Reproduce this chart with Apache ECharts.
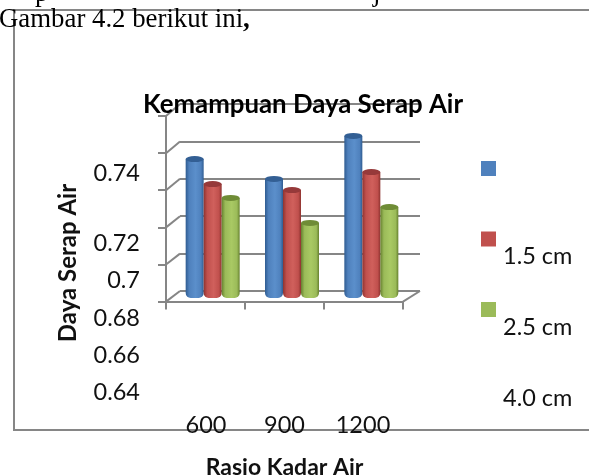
<!DOCTYPE html>
<html>
<head>
<meta charset="utf-8">
<style>html,body{margin:0;padding:0;background:#fff}#c{width:589px;height:476px}</style>
<script src="https://cdn.jsdelivr.net/npm/echarts@6/dist/echarts.min.js"></script>
</head>
<body>
<div id="c"></div>
<script>
const categories = ['600', '900', '1200'];
const seriesNames = ['1.5 cm', '2.5 cm', '4.0 cm'];
const values15 = [0.7139, 0.7033, 0.7262];
const values25 = [0.7006, 0.6974, 0.7070];
const values40 = [0.6932, 0.6799, 0.6884];
const yTicks = [0.64, 0.66, 0.68, 0.70, 0.72, 0.74];
const chartTitle = 'Kemampuan Daya Serap Air';
const xTitle = 'Rasio Kadar Air';
const yTitle = 'Daya Serap Air';
const captionText = 'Gambar 4.2 berikut ini';

const allValues = [values15, values25, values40];
const palette = [
  { base: '#4f81bd', dark: '#2f5c91', light: '#5b8fcb', cap: '#335f94' },
  { base: '#c0504d', dark: '#8e3330', light: '#d0605c', cap: '#96393a' },
  { base: '#9bbb59', dark: '#66812f', light: '#a9c964', cap: '#6f8c36' }
];
const GRAY = '#868686';
const SANS = 'Lato, "Open Sans", sans-serif';
const SERIF = '"Liberation Serif", serif';
const yMin = yTicks[0], yMax = yTicks[yTicks.length - 1];
const yStep = 0.02;

const chart = echarts.init(document.getElementById('c'), null, { renderer: 'canvas' });

const barSeries = allValues.map((vals, i) => ({
  type: 'bar', name: seriesNames[i], data: vals, xAxisIndex: 0, yAxisIndex: 0,
  barWidth: 18, barGap: '0%', z: 3, silent: true,
  itemStyle: {
    borderRadius: [0, 0, 5, 5],
    color: new echarts.graphic.LinearGradient(0, 0, 1, 0, [
      { offset: 0, color: palette[i].dark },
      { offset: 0.2, color: palette[i].base },
      { offset: 0.55, color: palette[i].light },
      { offset: 0.85, color: palette[i].base },
      { offset: 1, color: palette[i].dark }
    ])
  }
}));
const capSeries = allValues.map((vals, i) => ({
  type: 'scatter', name: seriesNames[i], data: vals, xAxisIndex: 0, yAxisIndex: 0,
  symbol: 'circle', symbolSize: [18, 6], symbolOffset: [(i - 1) * 18, 0], z: 4, silent: true,
  itemStyle: { color: palette[i].cap, opacity: 1 }
}));

const wall = [
  ...yTicks.map((_, k) => [166, 301.6 - k * 37.1, 180, 291 - k * 37.4]),
  [403, 301.6, 420, 291]
];

chart.setOption({
  animation: false,
  backgroundColor: '#fff',
  title: {
    text: chartTitle, left: 298, top: 100, textAlign: 'center', textVerticalAlign: 'middle',
    textStyle: { fontFamily: SANS, fontWeight: 'bold', fontSize: 25.8, color: '#000' }, z: 20
  },
  legend: [
    { show: true, orient: 'vertical', left: 481, top: 161, itemWidth: 15, itemHeight: 15,
      itemGap: 55.5, padding: 0, selectedMode: false, icon: 'rect', formatter: () => '',
      data: seriesNames.map((n, i) => ({ name: n, itemStyle: { color: palette[i].base, borderWidth: 0, borderColor: palette[i].base } })),
      textStyle: { fontSize: 1 } },
    { show: true, orient: 'vertical', left: 498, top: 243, itemWidth: 0, itemHeight: 0,
      itemGap: 44, padding: 0, selectedMode: false, icon: 'none',
      data: seriesNames.map(n => ({ name: n })),
      textStyle: { fontFamily: SANS, fontSize: 23.5, lineHeight: 27, color: '#111' } }
  ],
  grid: [
    { left: 173, width: 238, top: 110, height: 188, outerBoundsMode: 'none' },
    { left: 180, width: 240, top: 104, height: 187, outerBoundsMode: 'none' },
    { left: 166, width: 237, top: 116, height: 185.6, outerBoundsMode: 'none' },
    { left: 166.75, width: 235.5, top: 206.5, height: 186, outerBoundsMode: 'none' },
    { left: 166.75, width: 235.5, top: 300, height: 112, outerBoundsMode: 'none' }
  ],
  xAxis: [
    { gridIndex: 0, type: 'category', data: categories, show: false },
    { gridIndex: 1, type: 'category', data: categories, show: false },
    { gridIndex: 2, type: 'category', data: categories,
      axisLine: { show: true, lineStyle: { color: GRAY, width: 2 } },
      axisTick: { show: true, length: 8, lineStyle: { color: GRAY, width: 2 } },
      axisLabel: { show: false } },
    { gridIndex: 3, type: 'category', data: categories, show: false },
    { gridIndex: 4, type: 'category', data: categories,
      axisLine: { show: false }, axisTick: { show: false },
      axisLabel: { show: true, margin: 1, fontFamily: SANS, fontSize: 23.5, color: '#111', interval: 0 },
      name: xTitle, nameLocation: 'middle', nameGap: 44,
      nameTextStyle: { fontFamily: SANS, fontWeight: 'bold', fontSize: 23, color: '#111' } }
  ],
  yAxis: [
    { gridIndex: 0, type: 'value', min: yMin, max: yMax, show: false },
    { gridIndex: 1, type: 'value', min: yMin, max: yMax, interval: yStep,
      axisLine: { show: false }, axisTick: { show: false }, axisLabel: { show: false },
      splitLine: { show: true, lineStyle: { color: GRAY, width: 2 } } },
    { gridIndex: 2, type: 'value', min: yMin, max: yMax, interval: yStep, splitLine: { show: false },
      axisLine: { show: true, lineStyle: { color: GRAY, width: 2 } },
      axisTick: { show: true, length: 8, lineStyle: { color: GRAY, width: 2 } },
      axisLabel: { show: false } },
    { gridIndex: 3, type: 'value', min: yMin, max: yMax, interval: yStep, splitLine: { show: false },
      axisLine: { show: false }, axisTick: { show: false },
      position: 'left', offset: 26.75,
      axisLabel: {
        show: true, margin: 0, fontFamily: SANS, fontSize: 23.5, color: '#111', align: 'right',
        formatter: v => {
          const s = String(+v.toFixed(2));
          return Math.abs(v - yMax) < 1e-6 ? '{up|' + s + '}' : s;
        },
        rich: { up: { fontFamily: SANS, fontSize: 23.5, color: '#111', padding: [0, 0, 66, 0] } }
      } },
    { gridIndex: 4, type: 'value', show: false }
  ],
  series: [...barSeries, ...capSeries],
  graphic: [
    { type: 'rect', shape: { x: 14, y: 10, width: 600, height: 420 }, z: -5, silent: true,
      style: { fill: 'transparent', stroke: GRAY, lineWidth: 2 } },
    ...wall.map(w => ({ type: 'line', shape: { x1: w[0], y1: w[1], x2: w[2], y2: w[3] }, z: 1, silent: true,
      style: { stroke: GRAY, lineWidth: 2 } })),
    { type: 'text', x: 68, y: 263, rotation: Math.PI / 2, z: 10, silent: true,
      style: { text: yTitle, align: 'center', verticalAlign: 'middle', fontFamily: SANS, fontWeight: 'bold', fontSize: 24, fill: '#111' } },
    { type: 'text', x: -1, y: 20, z: 30, silent: true,
      style: {
        text: captionText + '{b|,}', verticalAlign: 'middle', fontFamily: SERIF, fontSize: 26.8, fill: '#000',
        rich: { b: { fontFamily: SERIF, fontSize: 26.8, fontWeight: 'bold', fill: '#000' } }
      } },
    { type: 'text', x: 35, y: -20, z: 30, silent: true,
      style: { text: 'p', verticalAlign: 'top', fontFamily: SERIF, fontSize: 26.8, fill: '#000' } },
    { type: 'text', x: 373, y: -20, z: 30, silent: true,
      style: { text: 'j', verticalAlign: 'top', fontFamily: SERIF, fontSize: 26.8, fill: '#000' } }
  ]
});
</script>
</body>
</html>
